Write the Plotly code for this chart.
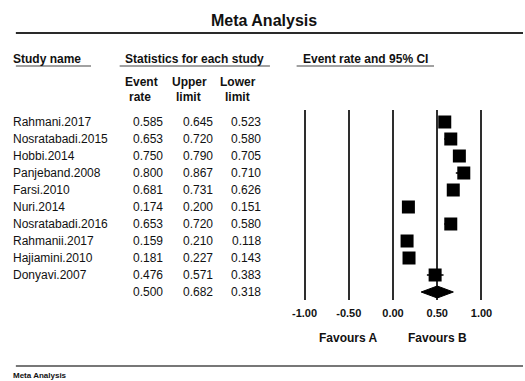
import plotly.graph_objects as go

# ---- data ----
studies = ["Rahmani.2017", "Nosratabadi.2015", "Hobbi.2014", "Panjeband.2008",
           "Farsi.2010", "Nuri.2014", "Nosratabadi.2016", "Rahmanii.2017",
           "Hajiamini.2010", "Donyavi.2007"]
event_rate = [0.585, 0.653, 0.750, 0.800, 0.681, 0.174, 0.653, 0.159, 0.181, 0.476]
upper_limit = [0.645, 0.720, 0.790, 0.867, 0.731, 0.200, 0.720, 0.210, 0.227, 0.571]
lower_limit = [0.523, 0.580, 0.705, 0.710, 0.626, 0.151, 0.580, 0.118, 0.143, 0.383]
summary_rate, summary_upper, summary_lower = 0.500, 0.682, 0.318
tick_values = [-1.0, -0.5, 0.0, 0.5, 1.0]
tick_labels = ["-1.00", "-0.50", "0.00", "0.50", "1.00"]

# ---- geometry (pixels of a 525 x 381 page) ----
W, H = 525, 381
FONT = "Liberation Sans, Arial, sans-serif"
INK = "#111111"


def py(px):
    """Pixel row -> paper y."""
    return 1 - px / H


def pxx(px):
    """Pixel column -> paper x."""
    return px / W


row0_px, row_step = 122, 17          # first study row and row spacing
plot_top_px, plot_bot_px = 110, 300  # vertical extent of forest panel
x_left_px, x_right_px = 304, 483     # pixel positions of -1 and +1
unit = (x_right_px - x_left_px) / 2
xr = (-1.1, 1.1)
dom_x = [pxx(x_left_px + (xr[0] + 1) * unit), pxx(x_left_px + (xr[1] + 1) * unit)]
y_top = (plot_top_px - row0_px) / row_step
y_bot = (plot_bot_px - row0_px) / row_step

rows = list(range(len(studies)))
summary_row = len(studies)

fig = go.Figure()

# confidence intervals + study squares
fig.add_trace(go.Scatter(
    x=event_rate, y=rows, mode="markers",
    marker=dict(symbol="square", size=13, color="black"),
    error_x=dict(type="data", symmetric=False,
                 array=[u - r for u, r in zip(upper_limit, event_rate)],
                 arrayminus=[r - l for r, l in zip(event_rate, lower_limit)],
                 color="black", thickness=1.5, width=0),
    hoverinfo="skip", showlegend=False, cliponaxis=False))

# pooled estimate diamond
h = 6 / row_step
fig.add_trace(go.Scatter(
    x=[summary_lower, summary_rate, summary_upper, summary_rate, summary_lower],
    y=[summary_row, summary_row - h, summary_row, summary_row + h, summary_row],
    mode="lines", fill="toself", fillcolor="black",
    line=dict(color="black", width=1), hoverinfo="skip", showlegend=False,
    cliponaxis=False))

ann = []

def add_text(text, x, y, size=12, bold=False, xanchor="left", xref="paper",
             yref="paper", color=INK, xshift=0):
    ann.append(dict(text=f"<b>{text}</b>" if bold else text, x=x, y=y,
                    xref=xref, yref=yref, xanchor=xanchor, yanchor="middle",
                    xshift=xshift, showarrow=False,
                    font=dict(family=FONT, size=size, color=color)))

LEFT = pxx(12)
LSHIFT = -5  # compensate for annotation box padding on left-aligned text

# title and headers
add_text("Meta Analysis", pxx(263), py(20), size=16, bold=True, xanchor="center")
add_text("Study name", LEFT, py(59), size=12, bold=True, xshift=LSHIFT)
add_text("Statistics for each study", pxx(193), py(59), size=12, bold=True, xanchor="center")
add_text("Event rate and 95% CI", pxx(366), py(59), size=12, bold=True, xanchor="center")
for cx, top, bot in [(139, "Event", "rate"), (188, "Upper", "limit"), (237, "Lower", "limit")]:
    add_text(top, pxx(cx), py(82), size=12, bold=True, xanchor="center")
    add_text(bot, pxx(cx - 1), py(97), size=12, bold=True, xanchor="center")

# table body
col_x = [pxx(146), pxx(196), pxx(245)]
for i, name in enumerate(studies):
    add_text(name, LEFT, i, yref="y", xshift=LSHIFT)
    for cx, v in zip(col_x, (event_rate[i], upper_limit[i], lower_limit[i])):
        add_text(f"{v:.3f}", cx, i, xanchor="center", yref="y")
for cx, v in zip(col_x, (summary_rate, summary_upper, summary_lower)):
    add_text(f"{v:.3f}", cx, summary_row, xanchor="center", yref="y")

# favours labels under the axis
add_text("Favours A", -0.5, py(338), size=12, bold=True, xanchor="center", xref="x")
add_text("Favours B", 0.5, py(338), size=12, bold=True, xanchor="center", xref="x")

# footer caption
add_text("Meta Analysis", LEFT, py(375), size=8, bold=True, xshift=LSHIFT)

shapes = [
    dict(type="line", xref="paper", yref="paper", x0=pxx(12), x1=1.0,
         y0=py(33), y1=py(33), line=dict(color="#2a2a2a", width=2)),
    dict(type="line", xref="paper", yref="paper", x0=pxx(12), x1=pxx(88),
         y0=py(66), y1=py(66), line=dict(color="#444", width=1.2)),
    dict(type="line", xref="paper", yref="paper", x0=pxx(117), x1=pxx(269),
         y0=py(66), y1=py(66), line=dict(color="#444", width=1.2)),
    dict(type="line", xref="paper", yref="paper", x0=pxx(296), x1=pxx(435),
         y0=py(66), y1=py(66), line=dict(color="#444", width=1.2)),
    dict(type="line", xref="paper", yref="paper", x0=pxx(12), x1=1.0,
         y0=py(366), y1=py(366), line=dict(color="#777", width=2)),
]

fig.update_layout(
    width=W, height=H, margin=dict(l=0, r=0, t=0, b=0),
    paper_bgcolor="white", plot_bgcolor="white",
    annotations=ann, shapes=shapes,
    xaxis=dict(domain=dom_x, range=list(xr), tickvals=tick_values,
               ticktext=[f"<b>{t}</b>" for t in tick_labels],
               tickfont=dict(family=FONT, size=11, color=INK),
               showgrid=True, gridcolor="#2e2e2e", gridwidth=2,
               zeroline=False, showline=False, ticks="", ticklabelstandoff=5,
               fixedrange=True),
    yaxis=dict(domain=[py(plot_bot_px), py(plot_top_px)], range=[y_bot, y_top],
               showgrid=False, zeroline=False, showticklabels=False,
               showline=False, ticks="", fixedrange=True),
)

fig.write_html("out.html")
